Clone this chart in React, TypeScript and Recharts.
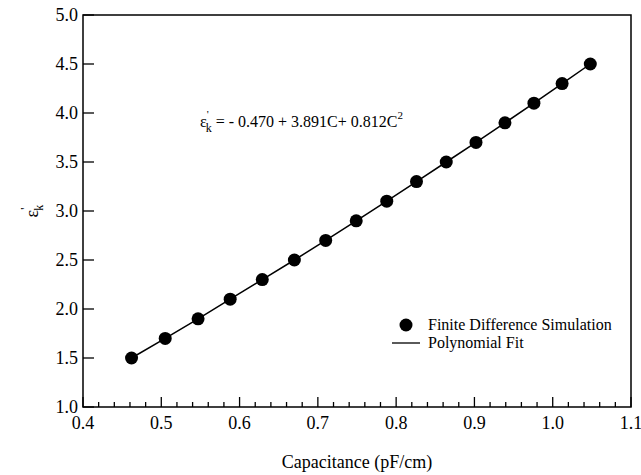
import {
  ComposedChart,
  Line,
  Scatter,
  XAxis,
  YAxis,
  Legend,
  ReferenceArea,
  Customized,
} from 'recharts'

// capacitance (pF/cm) vs effective permittivity
const capacitance = [
  0.462, 0.505, 0.547, 0.588, 0.629, 0.670, 0.710, 0.749,
  0.788, 0.826, 0.864, 0.902, 0.939, 0.976, 1.012, 1.048,
]
const permittivity = [
  1.5, 1.7, 1.9, 2.1, 2.3, 2.5, 2.7, 2.9,
  3.1, 3.3, 3.5, 3.7, 3.9, 4.1, 4.3, 4.5,
]
const xTicks = [
  0.4, 0.42, 0.44, 0.46, 0.48, 0.5, 0.52, 0.54, 0.56, 0.58, 0.6,
  0.62, 0.64, 0.66, 0.68, 0.7, 0.72, 0.74, 0.76, 0.78, 0.8,
  0.82, 0.84, 0.86, 0.88, 0.9, 0.92, 0.94, 0.96, 0.98, 1.0,
  1.02, 1.04, 1.06, 1.08, 1.1,
]
const yTicks = [1.0, 1.5, 2.0, 2.5, 3.0, 3.5, 4.0, 4.5, 5.0]
const legendLabels = ['Finite Difference Simulation', 'Polynomial Fit']

const rows = capacitance.map((c, i) => ({ cap: c, eps: permittivity[i] }))

const serif = { fontFamily: "'Liberation Serif', 'Times New Roman', Times, serif" }

function XTick({ x, y, payload }: any) {
  const v = payload.value as number
  const major = Math.abs(v * 10 - Math.round(v * 10)) < 1e-6
  return (
    <g>
      <line x1={x} y1={y} x2={x} y2={y - (major ? 10 : 5)} stroke="#000" strokeWidth={1.3} />
      {major && (
        <text x={x} y={y + 22} textAnchor="middle" fontSize={18} style={serif} fill="#000">
          {v.toFixed(1)}
        </text>
      )}
    </g>
  )
}

function YTick({ x, y, payload }: any) {
  const v = payload.value as number
  return (
    <g>
      <line x1={x} y1={y} x2={x + 11} y2={y} stroke="#000" strokeWidth={1.3} />
      <text x={x - 5} y={y + 6} textAnchor="end" fontSize={18} style={serif} fill="#000">
        {v.toFixed(1)}
      </text>
    </g>
  )
}

function Annotations() {
  return (
    <g style={serif} fill="#000">
      <text x={32} y={217} fontSize={18} textAnchor="middle" transform="rotate(-90 32 211)" style={serif}>
        ε<tspan fontSize={12} dy={-9}>'</tspan>
        <tspan fontSize={12} dx={-3} dy={14}>k</tspan>
      </text>
      <text x={200} y={127} fontSize={16} style={serif}>
        ε<tspan fontSize={11} dy={-9}>'</tspan>
        <tspan fontSize={12} dx={-3} dy={14}>k</tspan>
        <tspan dy={-5}> = - 0.470 + 3.891C+ 0.812C</tspan>
        <tspan fontSize={11} dy={-8}>2</tspan>
      </text>
      <text x={357} y={468} fontSize={18} textAnchor="middle" style={serif}>
        Capacitance (pF/cm)
      </text>
    </g>
  )
}

function LegendBox() {
  return (
    <svg width={240} height={42} style={{ display: 'block' }}>
      <g fill="#000" fontSize={16}>
        <circle cx={21} cy={13} r={6.5} fill="#000" />
        <text x={43} y={18} style={serif}>{legendLabels[0]}</text>
        <line x1={7} y1={31} x2={35} y2={31} stroke="#000" strokeWidth={1.3} />
        <text x={43} y={36} style={serif}>{legendLabels[1]}</text>
      </g>
    </svg>
  )
}

export default function App() {
  return (
    <div style={{ position: 'absolute', left: 0, top: 0, background: '#fff' }}>
      <ComposedChart
        width={641}
        height={475}
        data={rows}
        margin={{ top: 15, right: 10, bottom: 0, left: 0 }}
      >
        <XAxis
          dataKey="cap"
          type="number"
          domain={[0.4, 1.1]}
          ticks={xTicks}
          interval={0}
          height={68}
          tickSize={0}
          tickMargin={0}
          tickLine={false}
          tick={<XTick />}
          axisLine={false}
        />
        <YAxis
          type="number"
          domain={[1, 5]}
          ticks={yTicks}
          interval={0}
          width={83}
          tickSize={0}
          tickMargin={0}
          tickLine={false}
          tick={<YTick />}
          axisLine={false}
        />
        <ReferenceArea
          x1={0.4}
          x2={1.1}
          y1={1}
          y2={5}
          fill="none"
          fillOpacity={0}
          stroke="#000"
          strokeWidth={1.5}
          ifOverflow="visible"
        />
        <Line
          dataKey="eps"
          type="linear"
          stroke="#000"
          strokeWidth={1.5}
          dot={false}
          isAnimationActive={false}
        />
        <Scatter
          dataKey="eps"
          fill="#000"
          shape={(p: any) => <circle cx={p.cx} cy={p.cy} r={6.5} fill="#000" />}
          isAnimationActive={false}
        />
        <Legend
          layout="vertical"
          align="center"
          verticalAlign="middle"
          content={() => <LegendBox />}
          wrapperStyle={{ left: 385, top: 312, width: 240 }}
        />
        <Customized component={Annotations} />
      </ComposedChart>
    </div>
  )
}
